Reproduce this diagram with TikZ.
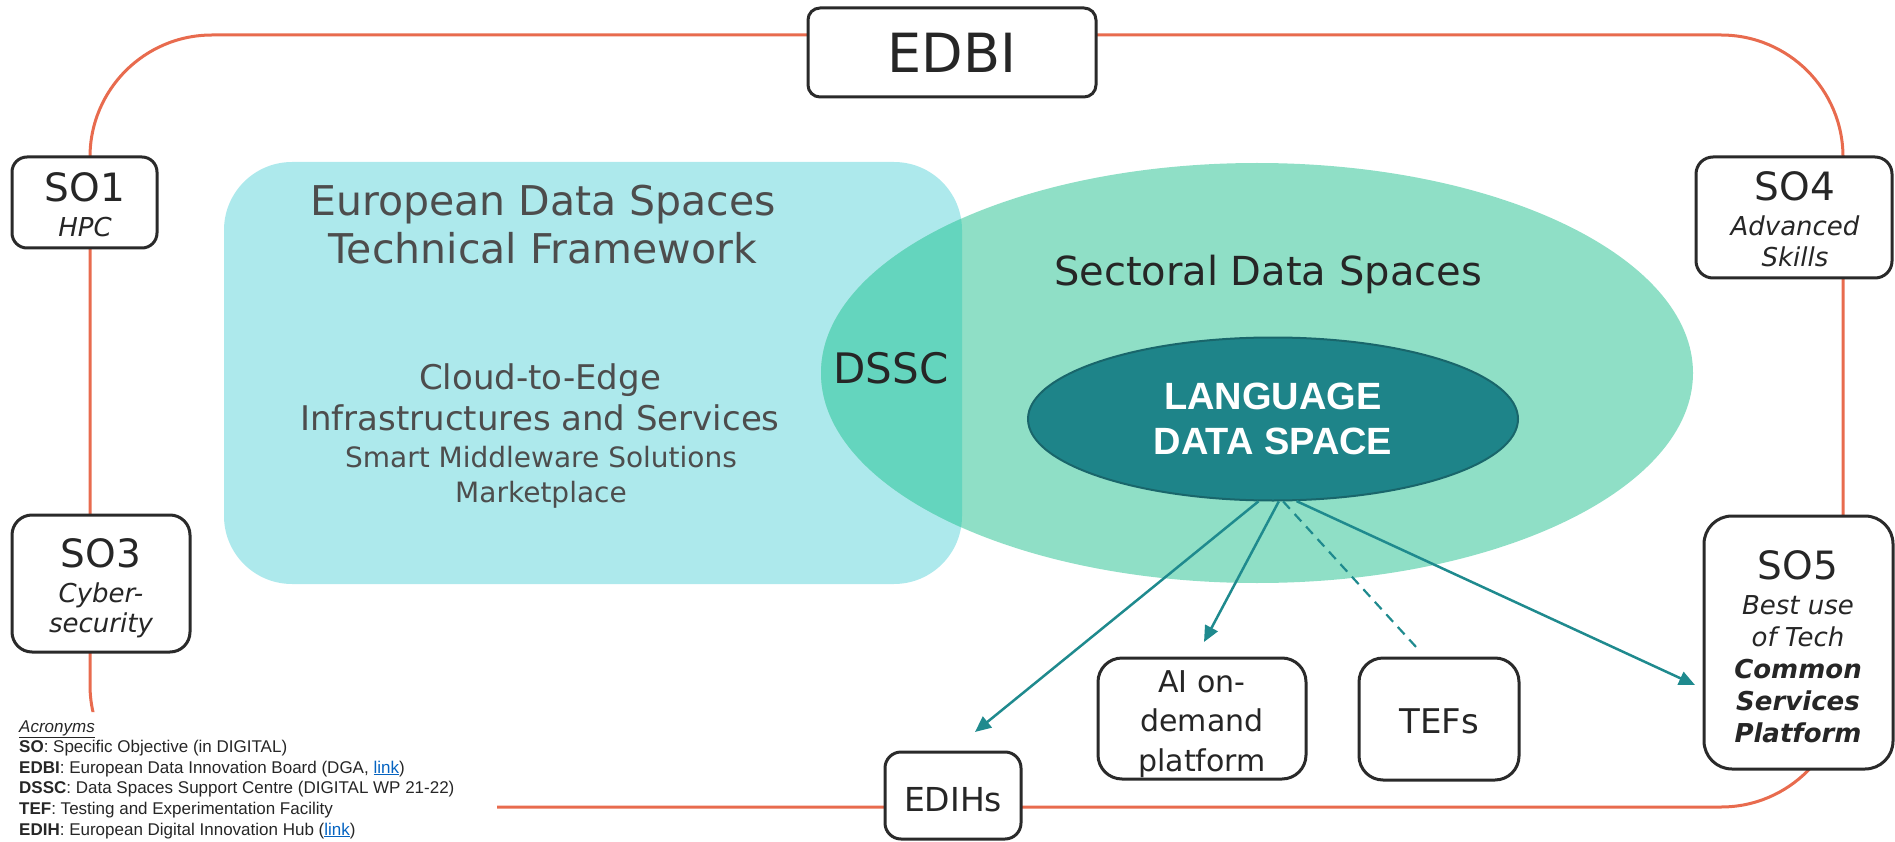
\documentclass[tikz,border=0pt]{standalone}
\usepackage{fontspec}
\setmainfont{DejaVu Sans}
\newfontfamily\arialf{Liberation Sans}
\usetikzlibrary{arrows.meta,shapes.geometric}
\definecolor{loopC}{HTML}{E86B4E}
\definecolor{blueR}{HTML}{ADE9EC}
\definecolor{greenE}{HTML}{8FDFC6}
\definecolor{overlapC}{HTML}{64D5BE}
\definecolor{tealD}{HTML}{1E8489}
\definecolor{tealB}{HTML}{19666B}
\definecolor{arrowC}{HTML}{1F8A8E}
\definecolor{boxC}{HTML}{2A2A2A}
\definecolor{greyT}{HTML}{4D4D4D}
\definecolor{darkT}{HTML}{262626}
\definecolor{linkblue}{HTML}{0563C1}
\newcommand\fsz[2]{\fontsize{#1pt}{#2pt}\selectfont}
\begin{document}
\begin{tikzpicture}[x=1pt,y=-1pt,
  sobox/.style={draw=boxC, line width=3pt, fill=white, inner sep=0pt},
  lbl/.style={anchor=base, align=center, inner sep=0pt, text=darkT},
  flowarrow/.style={draw=arrowC, line width=2.5pt, -{Triangle[length=16pt,width=14pt]}},
  dashlink/.style={draw=arrowC, line width=2.2pt, dash pattern=on 10pt off 7pt},
  ]
\useasboundingbox (0,0) rectangle (1895,842);

% orange loop (hidden behind the acronyms block at bottom left)
\begin{scope}
  \clip (0,0) rectangle (1895,712) (497,712) rectangle (1895,842);
  \draw[loopC, line width=3pt, rounded corners=122pt] (90,35) rectangle (1843,807);
\end{scope}

% framework rectangle and sectoral ellipse
\fill[blueR, rounded corners=68pt] (224,162) rectangle (962,584);
\fill[greenE] (1257,373) ellipse [x radius=436pt, y radius=210pt];
\begin{scope}
  \clip[rounded corners=68pt] (224,162) rectangle (962,584);
  \fill[overlapC] (1257,373) ellipse [x radius=436pt, y radius=210pt];
\end{scope}

% texts in the big shapes (base anchor = baseline of the last line)
\node[lbl, text=greyT, font=\fsz{41}{48}] (edstf) at (543,264) {European Data Spaces\\Technical Framework};
\node[lbl, text=greyT, font=\fsz{34}{41}] (c2e) at (540,430) {Cloud-to-Edge\\Infrastructures and Services};
\node[lbl, text=greyT, font=\fsz{28}{35}] (smw) at (541,502) {Smart Middleware Solutions\\Marketplace};
\node[lbl, font=\fsz{40}{40}] (sds) at (1268,286) {Sectoral Data Spaces};
\node[lbl, font=\fsz{42}{42}] (dssc) at (891,383) {DSSC};

% language data space
\node[ellipse, fill=tealD, draw=tealB, line width=2pt, minimum width=490pt, minimum height=163pt,
      inner sep=0pt, text=white, font=\arialf\bfseries\fsz{38}{45}, align=center] (lds) at (1273,419) {LANGUAGE\\DATA SPACE};

% boxes
\node[sobox, rounded corners=12pt, minimum width=288pt, minimum height=89pt] (edbi) at (952,52.5) {};
\node[lbl, font=\fsz{54}{54}] (edbit) at (952,73) {EDBI};

\node[sobox, rounded corners=15pt, minimum width=145pt, minimum height=91pt] (so1) at (84.5,202.5) {};
\node[lbl, font=\fsz{26}{32}\itshape] (so1t) at (85,237) {{\upshape\fsz{39}{39}SO1}\\[3pt]HPC};

\node[sobox, rounded corners=17pt, minimum width=196pt, minimum height=121pt] (so4) at (1794,217.5) {};
\node[lbl, font=\fsz{26}{31}\itshape] (so4t) at (1795,267) {{\upshape\fsz{39}{39}SO4}\\[4pt]Advanced\\Skills};

\node[sobox, rounded corners=20pt, minimum width=178pt, minimum height=137pt] (so3) at (101,583.5) {};
\node[lbl, font=\fsz{26}{30}\itshape] (so3t) at (101,632) {{\upshape\fsz{39}{39}SO3}\\[5pt]Cyber-\\security};

\node[sobox, rounded corners=28pt, minimum width=189pt, minimum height=253pt] (so5) at (1798.5,642.5) {};
\node[lbl, font=\fsz{26}{32}\itshape] (so5t) at (1798,742) {{\upshape\fsz{39}{39}SO5}\\[3pt]Best use\\of Tech\\\bfseries Common\\\bfseries Services\\\bfseries Platform};

\node[sobox, rounded corners=16pt, minimum width=136pt, minimum height=87pt] (edih) at (953,795.5) {};
\node[lbl, font=\fsz{33}{33}] (ediht) at (953,811) {EDIHs};

\node[sobox, rounded corners=24pt, minimum width=208pt, minimum height=121pt] (ai) at (1202,718.5) {};
\node[lbl, font=\fsz{30}{39.5}] (ait) at (1202,771) {AI on-\\demand\\platform};

\node[sobox, rounded corners=24pt, minimum width=160pt, minimum height=122pt] (tef) at (1439,719) {};
\node[lbl, font=\fsz{34}{34}] (teft) at (1439,733) {TEFs};

% connectors
\coordinate (edihEnd) at (975,732);
\coordinate (aiEnd) at (1204,642);
\coordinate (tefEnd) at (1417,648);
\coordinate (so5End) at (1695,685);
\draw[flowarrow] (lds.-100) -- (edihEnd);
\draw[flowarrow] (lds.-86.6) -- (aiEnd);
\draw[dashlink] (lds.-83) -- (tefEnd);
\draw[flowarrow] (lds.-74) -- (so5End);

% acronyms
\node[anchor=base west, align=left, inner sep=0pt, text=darkT, font=\arialf\fsz{17}{20.6}] (acr) at (19,835)
 {\underline{\textit{Acronyms}}\\
  \textbf{SO}: Specific Objective (in DIGITAL)\\
  \textbf{EDBI}: European Data Innovation Board (DGA, \textcolor{linkblue}{\underline{link}})\\
  \textbf{DSSC}: Data Spaces Support Centre (DIGITAL WP 21-22)\\
  \textbf{TEF}: Testing and Experimentation Facility\\
  \textbf{EDIH}: European Digital Innovation Hub (\textcolor{linkblue}{\underline{link}})};
\end{tikzpicture}
\end{document}
